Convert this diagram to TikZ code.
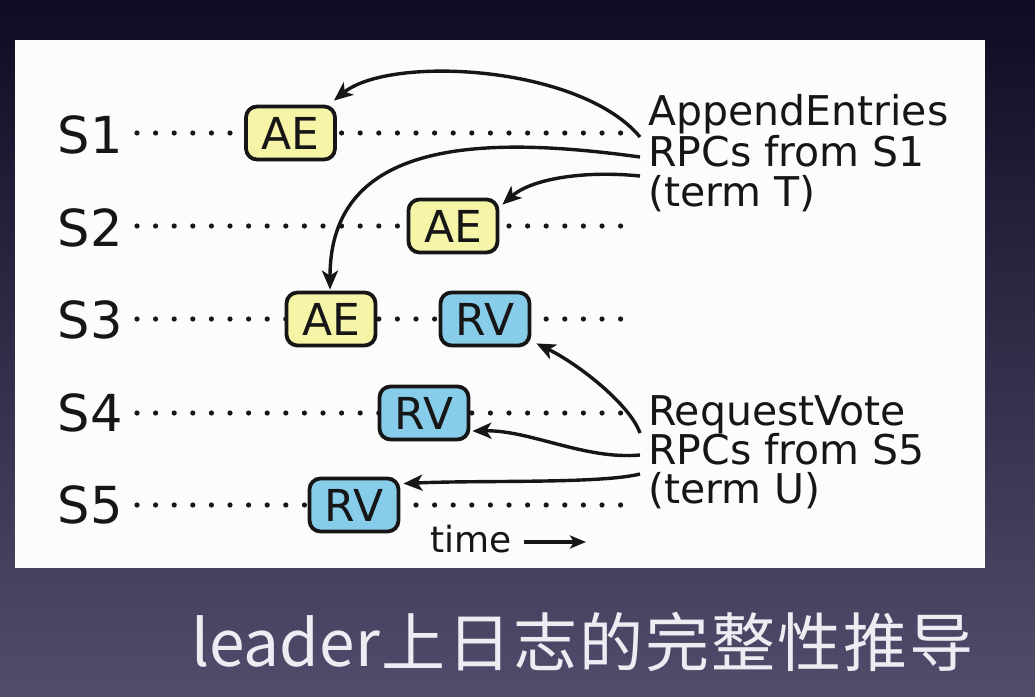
\documentclass[tikz,border=0pt]{standalone}
\usepackage{fontspec}
\setmainfont{DejaVu Sans}
\newfontfamily\cjkfont{Noto Sans CJK SC}
\usetikzlibrary{arrows.meta}

\definecolor{aefill}{RGB}{246,244,166}
\definecolor{rvfill}{RGB}{135,205,234}
\definecolor{bgtop}{RGB}{14,12,36}
\definecolor{bgbot}{RGB}{80,77,108}
\definecolor{ink}{RGB}{22,22,22}
\definecolor{captext}{RGB}{236,236,242}

% small gap between the characters of the caption
\newcommand\zgap{\kern 2pt}

\tikzset{
  msg/.style={draw=ink, line width=3.8pt, rounded corners=11pt,
    minimum width=89pt, minimum height=53pt, inner sep=0pt,
    font=\fontsize{44}{44}\selectfont, text=ink},
  ae/.style={msg, fill=aefill},
  rv/.style={msg, fill=rvfill},
  srv/.style={anchor=base east, inner sep=0pt, font=\fontsize{51}{51}\selectfont, text=ink},
  note/.style={anchor=base west, inner sep=0pt, font=\fontsize{41}{41}\selectfont, text=ink},
  timeline/.style={draw=ink, line width=5.2pt, line cap=round, dash pattern=on 0pt off 18.6pt},
  rpc/.style={draw=ink, line width=3.4pt, -{Stealth[length=19pt,width=16pt,inset=5pt]}},
}

\begin{document}
\begin{tikzpicture}[x=1pt,y=-1pt]
  \useasboundingbox (0,0) rectangle (1035,696);
  % slide background and white panel
  \fill[top color=bgtop, bottom color=bgbot] (0,0) rectangle (1035,696);
  \fill[white!98!gray] (15,40) rectangle (985,568);

  % servers and their timelines
  \node[srv] (s1) at (123,153) {S1};
  \node[srv] (s2) at (123,246) {S2};
  \node[srv] (s3) at (123,338) {S3};
  \node[srv] (s4) at (123,431) {S4};
  \node[srv] (s5) at (123,523) {S5};
  \coordinate (l1) at (626,133);
  \coordinate (l2) at (626,226);
  \coordinate (l3) at (626,319);
  \coordinate (l4) at (626,413);
  \coordinate (l5) at (626,505);
  \draw[timeline] (137,133) -- (l1);
  \draw[timeline] (137,226) -- (l2);
  \draw[timeline] (137,319) -- (l3);
  \draw[timeline] (137,413) -- (l4);
  \draw[timeline] (137,505) -- (l5);

  % messages
  \node[ae] (ae1) at (290.5,133) {AE};
  \node[ae] (ae2) at (453,226) {AE};
  \node[ae] (ae3) at (331,319) {AE};
  \node[rv] (rv3) at (485,319) {RV};
  \node[rv] (rv4) at (424,413) {RV};
  \node[rv] (rv5) at (354,505) {RV};

  % notes
  \node[note] (ap1) at (648,125) {AppendEntries};
  \node[note] (ap2) at (648,166) {RPCs from S1};
  \node[note] (ap3) at (648,206) {(term T)};
  \node[note] (rq1) at (648,425) {RequestVote};
  \node[note] (rq2) at (648,464) {RPCs from S5};
  \node[note] (rq3) at (648,503) {(term U)};

  % where the RPC arrows leave the notes
  \coordinate (c1) at (640,137);
  \coordinate (c2) at (640,157);
  \coordinate (c3) at (640,176);
  \coordinate (c4) at (640,433);
  \coordinate (c5) at (640,455);
  \coordinate (c6) at (640,474);

  \draw[rpc] (c1) .. controls (580,65) and (390,55) .. ([shift={(-3,-4)}]ae1.north east);
  \draw[rpc] (c2) .. controls (480,135) and (330,140) .. ([shift={(-1,-1)}]ae3.north);
  \draw[rpc] (c3) .. controls (580,170) and (530,180) .. ([shift={(3,7)}]ae2.north east);
  \draw[rpc] (c4) .. controls (630,405) and (580,365) .. ([shift={(5,-4)}]rv3.south east);
  \draw[rpc] (c5) .. controls (585,460) and (530,430) .. ([shift={(2,18)}]rv4.east);
  \draw[rpc] (c6) .. controls (600,484) and (480,480) .. ([shift={(3,7)}]rv5.north east);

  % time axis
  \node[anchor=base west, inner sep=0pt, font=\fontsize{36}{36}\selectfont, text=ink] (tm) at (430,552) {time};
  \coordinate (t0) at (524,542);
  \coordinate (t1) at (586,542);
  \draw[draw=ink, line width=3.4pt, -{Stealth[length=16pt,width=13pt,inset=4pt]}] (t0) -- (t1);

  % caption
  \node[anchor=base west, inner sep=0pt, text=captext,
        font=\cjkfont\fontsize{64}{64}\selectfont] (cap) at (191,666)
    {leader\zgap 上\zgap 日\zgap 志\zgap 的\zgap 完\zgap 整\zgap 性\zgap 推\zgap 导};
\end{tikzpicture}
\end{document}
